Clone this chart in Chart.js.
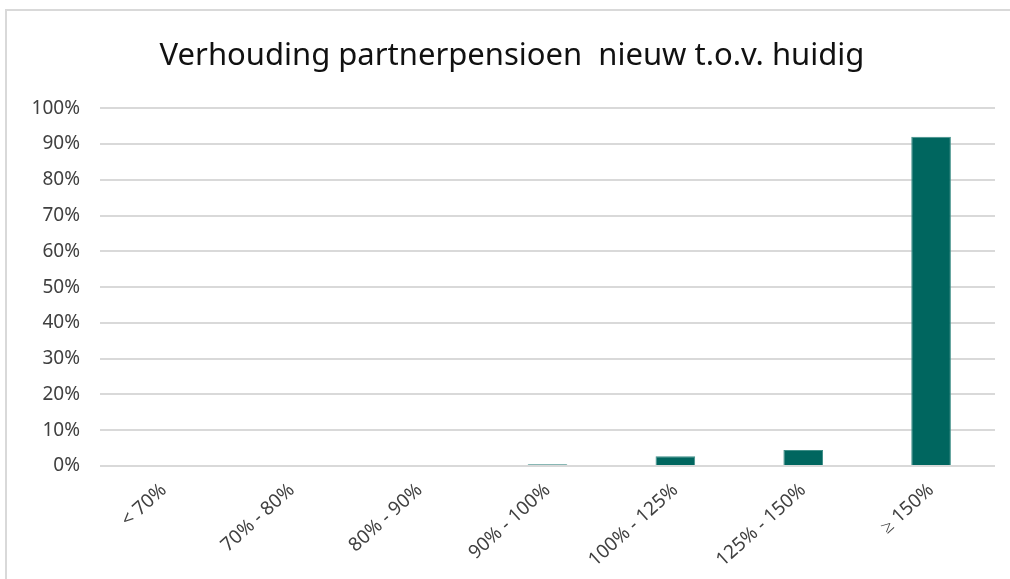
<!DOCTYPE html>
<html>
<head>
<meta charset="utf-8">
<script src="https://cdn.jsdelivr.net/npm/chart.js@4"></script>
<style>
  html, body { margin: 0; padding: 0; background: #ffffff; }
  #wrap { position: absolute; left: 0; top: 0; width: 1010px; height: 579px; }
  #frame { position: absolute; left: 5px; top: 9px; width: 1010px; height: 600px; border: 2px solid #d9d9d9; box-sizing: border-box; }
</style>
</head>
<body>
<div id="frame"></div>
<div id="wrap"><canvas id="chart" width="1010" height="579"></canvas></div>
<script>
// Verhouding partnerpensioen - categorieën en aandelen (%)
const categorieen = ['< 70%', '70% - 80%', '80% - 90%', '90% - 100%', '100% - 125%', '125% - 150%', '\u2265 150%'];
const aandelen = [0, 0, 0, 0.5, 2.7, 4.5, 92];
const yMin = 0;
const yMax = 100;
const yStap = 10;

const ctx = document.getElementById('chart').getContext('2d');
new Chart(ctx, {
    type: 'bar',
    data: {
        labels: categorieen,
        datasets: [{
            data: aandelen,
            backgroundColor: '#00665f',
            borderColor: '#3f8f88',
            borderWidth: 1,
            categoryPercentage: 1,
            barPercentage: 0.31
        }]
    },
    options: {
        responsive: false,
        animation: false,
        layout: { padding: { left: 29, right: 15, top: 0, bottom: 0 } },
        plugins: {
            legend: { display: false },
            tooltip: { enabled: false },
            title: {
                display: true,
                text: 'Verhouding partnerpensioen  nieuw t.o.v. huidig',
                color: '#111111',
                font: { family: 'Noto Sans', size: 31, weight: 'normal' },
                padding: { top: 38, bottom: 33 }
            }
        },
        scales: {
            x: {
                grid: { display: false },
                border: { display: false },
                ticks: {
                    color: '#404040',
                    font: { family: 'Noto Sans', size: 19 },
                    maxRotation: 42,
                    minRotation: 42,
                    padding: 5
                },
                afterFit: function(scale) { scale.height = 113; }
            },
            y: {
                min: yMin,
                max: yMax,
                grid: { color: '#d9d9d9', lineWidth: 2, drawTicks: false },
                border: { display: false },
                ticks: {
                    stepSize: yStap,
                    color: '#404040',
                    font: { family: 'Noto Sans', size: 19 },
                    padding: 20,
                    callback: function(v) { return v + '%'; }
                },
                afterFit: function(scale) { scale.width = 71; }
            }
        }
    }
});
</script>
</body>
</html>
